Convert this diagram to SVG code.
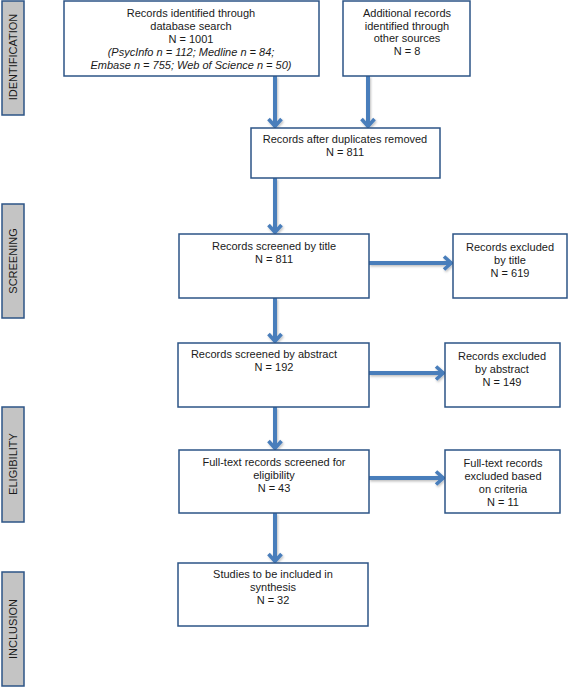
<svg xmlns="http://www.w3.org/2000/svg" width="568" height="687" viewBox="0 0 568 687">
<style>
  .box { fill: #ffffff; stroke: #2c5486; stroke-width: 1.5; }
  .side { fill: #c4c4c4; stroke: #2c5486; stroke-width: 1.5; }
  text { font-family: "Liberation Sans", Arial, sans-serif; font-size: 11px; fill: #1a1a1a; }
  .c { text-anchor: middle; }
  .it { font-style: italic; }
  .arrow { stroke: #4a7ebb; stroke-width: 4; fill: none; marker-end: url(#ah); }
</style>
<defs>
  <marker id="ah" markerUnits="userSpaceOnUse" viewBox="-11 -9 14 18" refX="0" refY="0" markerWidth="14" markerHeight="18" orient="auto">
    <path d="M-8,-6.5 L-0.8,0 L-8,6.5" fill="none" stroke="#4a7ebb" stroke-width="3.6" stroke-linejoin="miter"/>
  </marker>
  <filter id="sh" x="-20%" y="-20%" width="140%" height="140%">
    <feDropShadow dx="1" dy="1.5" stdDeviation="1" flood-color="#000000" flood-opacity="0.25"/>
  </filter>
</defs>
<rect width="568" height="687" fill="#ffffff"/>

<g id="label-identification">
  <rect class="side" x="2" y="1" width="22" height="114"/>
  <text class="c" transform="translate(17,57) rotate(-90)">IDENTIFICATION</text>
</g>
<g id="label-screening">
  <rect class="side" x="2" y="204" width="22" height="114"/>
  <text class="c" transform="translate(17,261) rotate(-90)">SCREENING</text>
</g>
<g id="label-eligibility">
  <rect class="side" x="2" y="407" width="22" height="115"/>
  <text class="c" transform="translate(17,464) rotate(-90)">ELIGIBILITY</text>
</g>
<g id="label-inclusion">
  <rect class="side" x="2" y="572" width="22" height="114"/>
  <text class="c" transform="translate(17,629) rotate(-90)">INCLUSION</text>
</g>

<g id="connectors" filter="url(#sh)">
  <line class="arrow" x1="275" y1="76" x2="275" y2="127"/>
  <line class="arrow" x1="368" y1="76" x2="368" y2="127"/>
  <line class="arrow" x1="275" y1="178" x2="275" y2="233"/>
  <line class="arrow" x1="369" y1="263" x2="452" y2="263"/>
  <line class="arrow" x1="275" y1="298" x2="275" y2="342"/>
  <line class="arrow" x1="369" y1="373" x2="444" y2="373"/>
  <line class="arrow" x1="275" y1="407" x2="275" y2="449"/>
  <line class="arrow" x1="369" y1="478" x2="444" y2="478"/>
  <line class="arrow" x1="275" y1="513" x2="275" y2="562"/>
</g>

<g id="n-database">
  <rect class="box" x="64" y="1" width="255" height="75"/>
  <text class="c" x="191" y="17">Records identified through</text>
  <text class="c" x="191" y="30">database search</text>
  <text class="c" x="191" y="43">N = 1001</text>
  <text class="c it" x="191" y="56">(PsycInfo n = 112; Medline n = 84;</text>
  <text class="c it" x="191" y="69">Embase n = 755; Web of Science n = 50)</text>
</g>
<g id="n-other">
  <rect class="box" x="343" y="1" width="127" height="75"/>
  <text class="c" x="407" y="17">Additional records</text>
  <text class="c" x="407" y="30">identified through</text>
  <text class="c" x="407" y="42">other sources</text>
  <text class="c" x="407" y="55">N = 8</text>
</g>
<g id="n-duplicates">
  <rect class="box" x="251" y="128" width="189" height="50"/>
  <text class="c" x="345" y="143">Records after duplicates removed</text>
  <text class="c" x="345" y="156">N = 811</text>
</g>
<g id="n-title">
  <rect class="box" x="179" y="234" width="190" height="64"/>
  <text class="c" x="274" y="250">Records screened by title</text>
  <text class="c" x="274" y="263">N = 811</text>
</g>
<g id="n-excl-title">
  <rect class="box" x="453" y="234" width="114" height="64"/>
  <text class="c" x="510" y="251">Records excluded</text>
  <text class="c" x="510" y="264">by title</text>
  <text class="c" x="510" y="277">N = 619</text>
</g>
<g id="n-abstract">
  <rect class="box" x="178" y="343" width="191" height="64"/>
  <text class="c" x="264" y="358">Records screened by abstract</text>
  <text class="c" x="274" y="371">N = 192</text>
</g>
<g id="n-excl-abstract">
  <rect class="box" x="445" y="343" width="115" height="64"/>
  <text class="c" x="502" y="360">Records excluded</text>
  <text class="c" x="502" y="373">by abstract</text>
  <text class="c" x="502" y="386">N = 149</text>
</g>
<g id="n-fulltext">
  <rect class="box" x="179" y="450" width="190" height="63"/>
  <text class="c" x="274" y="466">Full-text records screened for</text>
  <text class="c" x="274" y="479">eligibility</text>
  <text class="c" x="274" y="492">N = 43</text>
</g>
<g id="n-excl-fulltext">
  <rect class="box" x="445" y="450" width="115" height="63"/>
  <text class="c" x="503" y="467">Full-text records</text>
  <text class="c" x="503" y="480">excluded based</text>
  <text class="c" x="503" y="493">on criteria</text>
  <text class="c" x="503" y="506">N = 11</text>
</g>
<g id="n-included">
  <rect class="box" x="178" y="563" width="190" height="63"/>
  <text class="c" x="273" y="578">Studies to be included in</text>
  <text class="c" x="273" y="591">synthesis</text>
  <text class="c" x="273" y="604">N = 32</text>
</g>
</svg>
